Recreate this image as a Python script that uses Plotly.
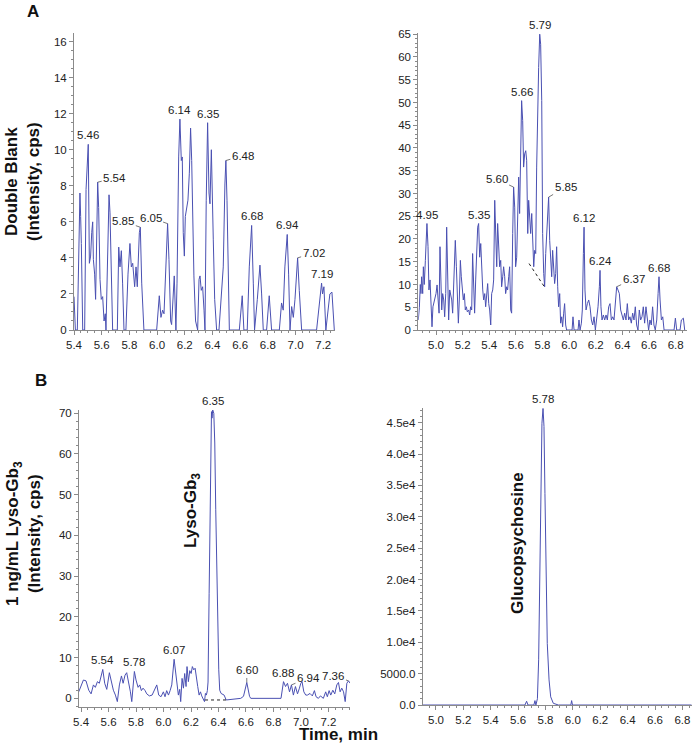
import plotly.graph_objects as go

# ---------------- DATA ----------------
# Panel A, left: Double Blank, Lyso-Gb3 transition
AL_t = [5.400,5.410,5.424,5.434,5.443,5.448,5.453,5.463,5.477,5.487,
        5.496,5.503,5.511,5.520,5.528,5.535,5.540,5.549,5.556,5.564,
        5.571,5.578,5.588,5.597,5.607,5.617,5.626,5.631,5.641,5.653,
        5.660,5.670,5.679,5.713,5.723,5.732,5.742,5.751,5.761,5.775,
        5.790,5.804,5.814,5.824,5.838,5.848,5.857,5.872,5.879,5.889,
        5.905,5.997,6.016,6.028,6.040,6.050,6.064,6.076,6.086,6.098,
        6.105,6.117,6.124,6.136,6.144,6.156,6.165,6.175,6.182,6.189,
        6.197,6.204,6.213,6.223,6.233,6.242,6.250,6.257,6.266,6.278,
        6.293,6.303,6.310,6.319,6.329,6.339,6.346,6.355,6.365,6.375,
        6.382,6.392,6.399,6.406,6.416,6.430,6.447,6.459,6.469,6.478,
        6.490,6.497,6.505,6.512,6.522,6.594,6.603,6.615,6.627,6.651,
        6.666,6.683,6.695,6.704,6.724,6.743,6.755,6.767,6.791,6.810,
        6.827,6.883,6.899,6.911,6.923,6.940,6.950,6.960,6.972,6.984,
        6.996,7.015,7.027,7.044,7.152,7.176,7.188,7.195,7.205,7.219,
        7.234,7.248,7.263,7.280]
AL_v = [1.85,0,0,4.6,7.6,6.3,4.8,0,0,7.8,
        9.0,10.3,3.7,4.1,5.4,6.0,3.9,3.1,1.7,5.4,
        8.2,6.8,2.8,1.7,1.85,0.5,0.9,0,3.5,7.5,
        6.5,3.5,0,0,4.6,3.5,4.4,2.6,0,0,
        3.1,4.8,3.5,3.7,2.4,3.5,2.4,5.4,5.7,2.6,
        0,0,1.9,0.7,1.1,0.9,3.5,5.9,3.9,0.5,
        0.3,2.6,3.0,0,2.6,9.6,11.7,9.4,9.6,5.4,
        4.1,6.3,6.7,7.2,8.7,11.2,9.4,5.4,3.0,0.5,
        0,2.8,3.0,2.2,2.4,1.1,0,7.2,11.5,7.6,
        7.0,10.0,6.5,5.0,1.7,0,0,1.3,2.0,3.5,
        8.1,9.4,7.2,3.5,0,0,0.9,1.9,0,0,
        3.5,5.8,2.6,0,1.7,3.6,2.0,0,0,1.9,
        0,0,1.5,1.1,3.5,5.3,3.1,0,1.3,0.7,
        1.7,4.0,2.2,0,0,1.7,2.6,2.0,2.4,0,
        1.1,2.0,2.1,0]
AL_lab_t = [5.503, 5.571, 5.879, 6.076, 6.165, 6.365, 6.497, 6.683, 6.940, 7.015, 7.188]
AL_lab_v = [10.3, 8.2, 5.7, 5.9, 11.7, 11.5, 9.4, 5.8, 5.3, 4.0, 2.6]
AL_lab_txt = ["5.46", "5.54", "5.85", "6.05", "6.14", "6.35", "6.48", "6.68", "6.94", "7.02", "7.19"]

# Panel A, right: Double Blank, Glucopsychosine transition
AR_t = [4.867,4.875,4.882,4.887,4.892,4.900,4.905,4.912,4.920,4.927,
        4.932,4.940,4.947,4.955,4.962,4.970,4.977,4.987,5.000,5.008,
        5.015,5.023,5.030,5.035,5.043,5.050,5.058,5.065,5.073,5.080,
        5.088,5.095,5.103,5.110,5.118,5.125,5.133,5.140,5.145,5.153,
        5.160,5.168,5.175,5.183,5.190,5.198,5.205,5.213,5.220,5.228,
        5.235,5.245,5.253,5.260,5.268,5.275,5.283,5.290,5.298,5.305,
        5.313,5.320,5.328,5.336,5.343,5.351,5.358,5.366,5.373,5.381,
        5.388,5.396,5.403,5.411,5.418,5.426,5.433,5.441,5.448,5.456,
        5.463,5.471,5.478,5.486,5.493,5.501,5.508,5.516,5.523,5.531,
        5.538,5.546,5.553,5.561,5.568,5.576,5.583,5.591,5.598,5.606,
        5.613,5.621,5.628,5.636,5.643,5.651,5.658,5.666,5.674,5.681,
        5.689,5.696,5.704,5.711,5.719,5.726,5.734,5.741,5.749,5.756,
        5.764,5.771,5.779,5.786,5.794,5.801,5.809,5.816,5.824,5.831,
        5.839,5.846,5.854,5.861,5.869,5.876,5.884,5.891,5.899,5.906,
        5.914,5.921,5.929,5.936,5.944,5.951,5.959,5.966,5.974,5.981,
        6.022,6.029,6.037,6.067,6.074,6.082,6.092,6.099,6.107,6.112,
        6.119,6.127,6.137,6.147,6.157,6.167,6.177,6.187,6.197,6.207,
        6.217,6.227,6.232,6.239,6.247,6.257,6.267,6.277,6.287,6.297,
        6.307,6.317,6.327,6.337,6.347,6.357,6.367,6.377,6.387,6.397,
        6.407,6.417,6.427,6.437,6.447,6.457,6.467,6.477,6.487,6.497,
        6.507,6.517,6.527,6.537,6.547,6.557,6.567,6.577,6.587,6.597,
        6.607,6.617,6.627,6.637,6.647,6.658,6.668,6.675,6.683,6.693,
        6.703,6.713,6.788,6.798,6.808,6.833,6.843,6.858,6.868]
AR_v = [2.2,5,10,8,11.7,8,13.9,10,15.3,20.5,
        23.4,18.3,8.8,11,6.6,0.7,5.1,6.2,8,9.9,
        7.7,3.7,18.3,9.5,4.4,8,6.6,2.9,8,22.6,
        10.2,2.2,8.8,8,6.6,3.7,11,14.6,19.7,13.9,
        5.8,1.5,6.6,15.3,11.7,8.8,6.6,8,4.4,5.1,
        4,4.4,3.3,5.1,4.4,16.8,10.2,3.7,11,19,
        22.6,23.4,16,19,11.7,8.8,6.6,8,5.1,8.8,
        10.2,5.8,4.4,1.1,8,8.8,11,28.5,21.2,13.9,
        23.4,16,13.9,15.3,9.5,11.7,13.9,11.7,8,9.5,
        8.8,11.7,13.9,4.4,3.7,21.2,31.4,27,13.9,16,
        24.1,33.6,25.6,39.4,50.4,46,35.8,38.7,39.4,37.3,
        21.2,28.5,24.8,21.2,25.6,21.2,13.9,17.5,16.8,35.8,
        50.4,57.7,65,62.8,50.4,21.2,12.4,9.5,16.8,21.2,
        26.3,29.2,19.7,13.9,11.7,17.5,14.6,10.2,12.4,18.3,
        9.5,5.1,8,1.5,2.9,0.7,3.7,5.8,1.1,0,
        0,2.9,0,0,2.2,0,1.5,4.4,16.8,22.6,
        8.8,4.4,5.8,6.6,5.1,2.2,1.1,2.9,0,2.2,
        5.1,9.5,13.1,5.1,2.2,3.3,2.2,3.3,2.2,5.1,
        5.8,2.2,2.9,2.2,6.6,9.5,8.8,8,4.4,2.9,
        2.2,3.7,2.2,5.8,2.2,2.9,1.5,3.7,2.2,5.1,
        1.1,0,4.4,2.2,2.9,5.1,1.5,5.1,2.2,0,
        2.2,1.1,5.1,1.1,0,2.2,8,11.7,6.6,2.2,
        2.9,0,0,2.6,0,0,2.2,2.6,0]
AR_base_t = [5.699, 5.814]
AR_base_v = [14.6, 9.5]
AR_lab_t = [4.932, 5.320, 5.583, 5.643, 5.779, 5.846, 6.112, 6.232, 6.357, 6.675]
AR_lab_v = [23.4, 23.4, 31.4, 50.4, 65.0, 29.2, 22.6, 13.1, 9.5, 11.7]
AR_lab_txt = ["4.95", "5.35", "5.60", "5.66", "5.79", "5.85", "6.12", "6.24", "6.37", "6.68"]

# Panel B, left: 1 ng/mL Lyso-Gb3
BL_t = [5.383,5.417,5.436,5.456,5.473,5.490,5.504,5.519,5.533,5.546,
        5.558,5.572,5.587,5.606,5.621,5.635,5.650,5.664,5.679,5.694,
        5.706,5.720,5.732,5.747,5.759,5.769,5.788,5.800,5.815,5.827,
        5.839,5.851,5.866,5.878,5.897,5.917,5.936,5.951,5.965,5.982,
        5.999,6.011,6.023,6.036,6.048,6.060,6.077,6.087,6.099,6.108,
        6.118,6.125,6.135,6.145,6.154,6.164,6.171,6.181,6.191,6.201,
        6.210,6.220,6.230,6.239,6.249,6.259,6.269,6.278,6.288,6.298,
        6.305,6.312,6.319,6.324,6.332,6.339,6.344,6.349,6.353,6.358,
        6.366,6.373,6.380,6.387,6.395,6.402,6.409,6.419,6.441,6.456,
        6.562,6.582,6.606,6.626,6.635,6.855,6.873,6.888,6.902,6.917,
        6.931,6.945,6.960,6.975,6.989,6.999,7.008,7.021,7.035,7.047,
        7.066,7.083,7.098,7.110,7.127,7.142,7.163,7.180,7.192,7.205,
        7.217,7.232,7.246,7.261,7.273,7.285,7.297,7.310,7.322,7.334,
        7.346,7.358]
BL_v = [1.6,4.5,4.3,2.0,1.1,3.3,2.7,4.1,3.7,5.2,
        7.1,3.7,2.2,6.3,4.1,2.0,0.8,-0.8,3.3,5.5,
        3.7,5.7,6.3,4.1,1.6,-0.8,6.6,4.5,2.7,3.3,
        1.9,2.5,1.9,1.1,0.6,0.8,2.0,3.3,0.8,0.4,
        1.6,0.4,1.9,0.8,1.9,3.3,9.6,6.6,3.3,0.8,
        2.2,-0.8,4.9,2.5,6.1,2.9,7.8,4.1,6.8,6.1,
        7.8,7.0,7.4,5.7,2.9,0.8,1.6,0.6,0.0,-0.8,
        1.2,0.8,1.9,4.0,25.8,50.4,66.7,70.4,68.8,70.8,
        70.0,62.7,46.3,30.7,16.0,7.0,2.0,1.2,0.8,-0.4,
        0,0.5,3.9,0.5,0,0,4.1,2.9,3.7,1.6,
        3.3,0.8,2.9,1.1,2.5,3.7,4.1,1.6,0.8,0.8,
        1.2,0.6,1.9,0.4,0,0.6,0,1.6,0.4,1.9,
        0.8,2.0,1.1,3.3,3.9,1.6,2.5,1.6,-0.8,3.7,
        4.3,3.7]
BL_base_t = [6.302, 6.460]
BL_base_v = [-0.4, -0.4]
BL_lab_t = [5.558, 5.788, 6.077, 6.358, 6.606, 6.873, 6.931, 7.346]
BL_lab_v = [7.1, 6.6, 9.6, 70.8, 3.9, 4.1, 3.3, 4.3]
BL_lab_txt = ["5.54", "5.78", "6.07", "6.35", "6.60", "6.88", "6.94", "7.36"]

# Panel B, right: Glucopsychosine (internal standard)
BR_t = [4.903, 5.650, 5.662, 5.672, 5.715, 5.723, 5.730, 5.741, 5.750, 5.760,
        5.767, 5.774, 5.782, 5.789, 5.796, 5.804, 5.813, 5.826, 5.838, 5.857,
        5.894, 5.985, 5.991, 5.997, 6.868]
BR_v = [0, 0, 600, 0, 0, 700, 0, 1000, 7200, 23100,
        36400, 44900, 47300, 44400, 33700, 20500, 9800, 4000, 1300, 270,
        0, 0, 700, 0, 0]
BR_lab_t = [5.782]
BR_lab_v = [47300]
BR_lab_txt = ["5.78"]

BR_ytick_vals = [0, 5000, 10000, 15000, 20000, 25000, 30000, 35000, 40000, 45000]
BR_ytick_txt = ["0.0", "5000.0", "1.0e4", "1.5e4", "2.0e4", "2.5e4", "3.0e4", "3.5e4", "4.0e4", "4.5e4"]

# ---------------- STYLE ----------------
FONT = "Liberation Sans, Arial, sans-serif"
LINE = "#4a50b2"
AXC = "#8a8a8a"
TXT = "#222222"

fig = go.Figure()

def add_trace(t, v, ax):
    fig.add_trace(go.Scatter(x=t, y=v, mode="lines", line=dict(color=LINE, width=1),
                             xaxis="x" + ax, yaxis="y" + ax, showlegend=False, hoverinfo="skip"))

def add_base(t, v, ax):
    fig.add_trace(go.Scatter(x=t, y=v, mode="lines", line=dict(color="#222", width=1, dash="dot"),
                             xaxis="x" + ax, yaxis="y" + ax, showlegend=False, hoverinfo="skip"))

add_trace(AL_t, AL_v, "")
add_trace(AR_t, AR_v, "2")
add_base(AR_base_t, AR_base_v, "2")
add_trace(BL_t, BL_v, "3")
add_base(BL_base_t, BL_base_v, "3")
add_trace(BR_t, BR_v, "4")

anns = []
LAB_SIZE = 11.5

def add_labels(ts, vs, txts, ax, offsets):
    for t, v, s, off in zip(ts, vs, txts, offsets):
        ref_x = "x" + ax
        ref_y = "y" + ax
        if off is None:
            anns.append(dict(x=t, y=v, xref=ref_x, yref=ref_y, text=s, showarrow=False,
                             yanchor="bottom", yshift=1, font=dict(family=FONT, size=LAB_SIZE, color=TXT)))
        else:
            anns.append(dict(x=t, y=v, xref=ref_x, yref=ref_y, text=s, showarrow=True,
                             arrowhead=0, arrowwidth=0.8, arrowcolor="#555", ax=off[0], ay=off[1],
                             standoff=0, font=dict(family=FONT, size=LAB_SIZE, color=TXT)))

add_labels(AL_lab_t, AL_lab_v, AL_lab_txt, "",
           [None, (17, -4), (-17, -6), (-17, -6), None, None, (17, -5), None, None, (16, -5), None])
add_labels(AR_lab_t, AR_lab_v, AR_lab_txt, "2",
           [None, None, (-17, -8), None, None, (17, -10), None, None, (17, -8), None])
add_labels(BL_lab_t, BL_lab_v, BL_lab_txt, "3",
           [None, None, None, None, (0, -12), None, (17, -7), (-15, -5)])
add_labels(BR_lab_t, BR_lab_v, BR_lab_txt, "4", [None])

def ptxt(x, y, s, size=17, angle=0):
    anns.append(dict(x=x, y=y, xref="paper", yref="paper", text=s, showarrow=False,
                     textangle=angle, xanchor="center", yanchor="middle",
                     font=dict(family=FONT, size=size, color="#111")))

ptxt(33 / 697, 1 - 11 / 743, "<b>A</b>", 17)
ptxt(41 / 697, 1 - 380 / 743, "<b>B</b>", 17)
ptxt(22 / 697, 1 - 182 / 743, "<b>Double Blank</b><br><b>(Intensity, cps)</b>", 17, -90)
ptxt(23 / 697, 1 - 534 / 743, "<b>1 ng/mL Lyso-Gb<sub>3</sub></b><br><b>(Intensity, cps)</b>", 17, -90)
ptxt(192 / 697, 1 - 511 / 743, "<b>Lyso-Gb<sub>3</sub></b>", 17, -90)
ptxt(517 / 697, 1 - 543 / 743, "<b>Glucopsychosine</b>", 17, -90)
ptxt(338 / 697, 1 - 734 / 743, "<b>Time, min</b>", 17)

def xax(domain, rng, anchor, dtick=0.2, tick0=5.0):
    return dict(domain=domain, range=rng, anchor=anchor, showline=True, linecolor=AXC, linewidth=1,
                ticks="outside", ticklen=4, tickcolor=AXC, tickwidth=1, dtick=dtick, tick0=tick0,
                tickformat=".1f", showgrid=False, zeroline=False, automargin=False,
                tickfont=dict(family=FONT, size=11.5, color=TXT),
                minor=dict(ticks="outside", ticklen=2, tickcolor=AXC, dtick=dtick / 4, showgrid=False))

def yax(domain, rng, anchor, dtick, minor, **kw):
    d = dict(domain=domain, range=rng, anchor=anchor, showline=True, linecolor=AXC, linewidth=1,
             ticks="outside", ticklen=4, tickcolor=AXC, tickwidth=1, dtick=dtick, tick0=0,
             showgrid=False, zeroline=False, automargin=False,
             tickfont=dict(family=FONT, size=11.5, color=TXT),
             minor=dict(ticks="outside", ticklen=2, tickcolor=AXC, dtick=minor, showgrid=False))
    d.update(kw)
    return d

fig.update_layout(
    template="none",
    width=697, height=743,
    margin=dict(l=0, r=0, t=0, b=0),
    paper_bgcolor="white", plot_bgcolor="white",
    font=dict(family=FONT, color=TXT),
    hovermode=False,
    xaxis=xax([74 / 697, 335 / 697], [5.40, 7.285], "y"),
    yaxis=yax([1 - 330 / 743, 1 - 33.3 / 743], [0, 16.46], "x", 2, 0.5),
    xaxis2=xax([418.3 / 697, 686.7 / 697], [4.867, 6.883], "y2"),
    yaxis2=yax([1 - 330 / 743, 1 - 33.3 / 743], [0, 65.2], "x2", 5, 1),
    xaxis3=xax([79 / 697, 350 / 697], [5.385, 7.357], "y3"),
    yaxis3=yax([1 - 706.7 / 743, 1 - 410 / 743], [-2.05, 70.8], "x3", 10, 2),
    xaxis4=xax([422.7 / 697, 691.7 / 697], [4.903, 6.868], "y4"),
    yaxis4=yax([1 - 705 / 743, 1 - 408.3 / 743], [0, 47300], "x4", 5000, 1000,
               tickmode="array", tickvals=BR_ytick_vals, ticktext=BR_ytick_txt),
    annotations=anns,
)

fig.write_html("out.html", config={"displayModeBar": False},
               post_script="document.body.style.margin='0px';")
